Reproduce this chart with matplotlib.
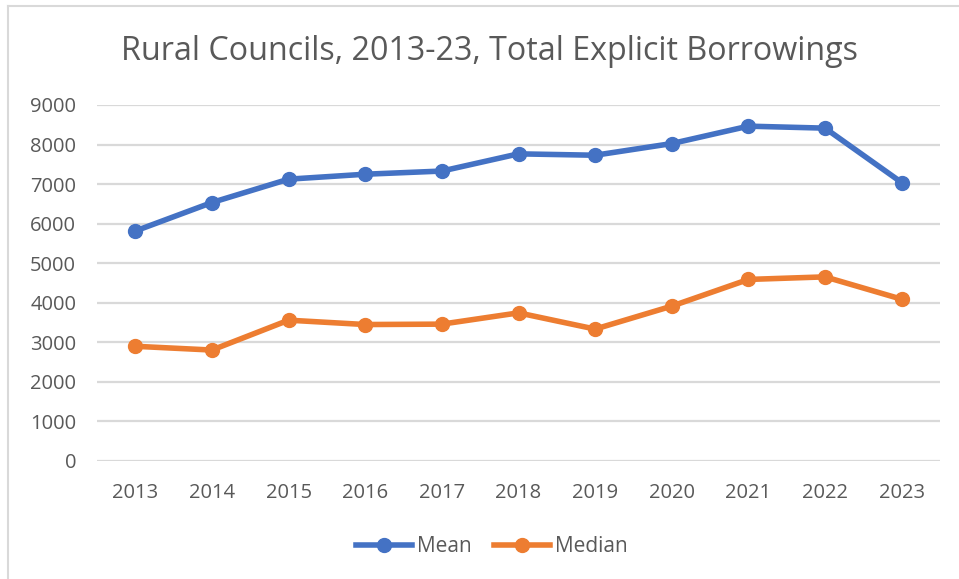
import matplotlib.pyplot as plt
from matplotlib.lines import Line2D

years = ["2013", "2014", "2015", "2016", "2017", "2018", "2019", "2020", "2021", "2022", "2023"]
mean = [5815, 6535, 7125, 7250, 7330, 7765, 7730, 8025, 8465, 8415, 7040]
median = [2900, 2805, 3560, 3450, 3460, 3745, 3335, 3915, 4590, 4655, 4090]

BLUE = "#4472C4"
ORANGE = "#ED7D31"
TXT = "#595959"

plt.rcParams['font.family'] = ['Open Sans', 'DejaVu Sans']

fig = plt.figure(figsize=(9.59, 5.79), dpi=100)
ax = fig.add_axes([97/959, 118/579, 843/959, 356/579])

x = range(len(years))
ax.plot(x, mean, color=BLUE, lw=4, marker="o", ms=10, label="Mean", zorder=3)
ax.plot(x, median, color=ORANGE, lw=4, marker="o", ms=10, label="Median", zorder=3)

ax.set_xlim(-0.5, len(years) - 0.5)
ax.set_ylim(0, 9000)
ax.set_yticks(range(0, 9001, 1000))
ax.set_xticks(list(x))
ax.set_xticklabels(years)
ax.yaxis.grid(True, color="#D9D9D9", lw=1.6)
ax.set_axisbelow(True)
for s in ax.spines.values():
    s.set_visible(False)
ax.tick_params(length=0, labelsize=14.5, labelcolor=TXT)
ax.tick_params(axis="y", pad=15)
ax.tick_params(axis="x", pad=16)

fig.text(489/959, 1 - 51/579, "Rural Councils, 2013-23, Total Explicit Borrowings",
         ha="center", va="center", fontsize=23.2, color=TXT)

handles = [Line2D([], [], color=BLUE, lw=4, marker="o", ms=10),
           Line2D([], [], color=ORANGE, lw=4, marker="o", ms=10)]
fig.legend(handles, ["Mean", "Median"], loc="center", bbox_to_anchor=(492/959, 1 - 547/579),
           ncol=2, frameon=False, fontsize=15, labelcolor=TXT, handlelength=2.65,
           handletextpad=0.25, columnspacing=1.1)

# chart frame (left and top edges visible)
fig.add_artist(Line2D([8/959, 8/959], [0, 1 - 6/579], color="#D9D9D9", lw=1.5))
fig.add_artist(Line2D([8/959, 1], [1 - 6/579, 1 - 6/579], color="#D9D9D9", lw=1.5))

fig.savefig("out.png", dpi=100)
